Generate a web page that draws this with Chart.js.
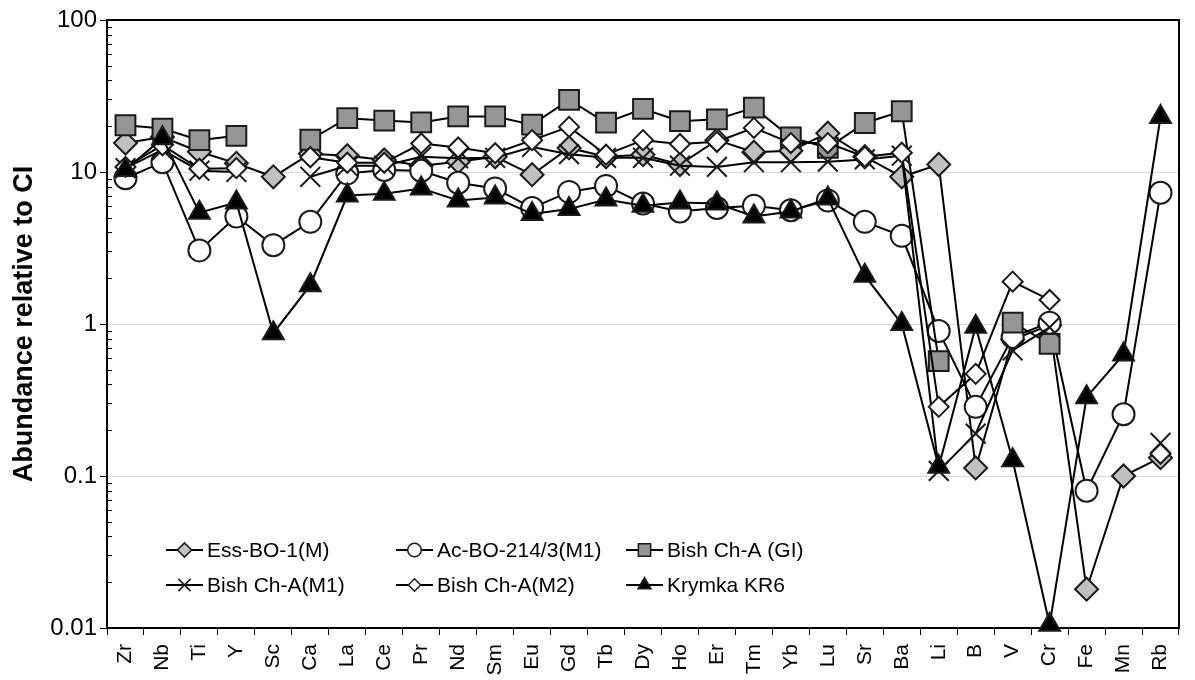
<!DOCTYPE html>
<html>
<head>
<meta charset="utf-8">
<script src="https://cdn.jsdelivr.net/npm/chart.js@4.4.1/dist/chart.umd.min.js"></script>
<style>
  html, body { margin: 0; padding: 0; background: #fff; }
  #wrap { width: 1195px; height: 680px; position: relative; }
</style>
</head>
<body>
<div id="wrap"><canvas id="chart1"></canvas></div>
<script>
// element order along the x axis
const elements = ['Zr','Nb','Ti','Y','Sc','Ca','La','Ce','Pr','Nd','Sm','Eu','Gd','Tb','Dy','Ho','Er','Tm','Yb','Lu','Sr','Ba','Li','B','V','Cr','Fe','Mn','Rb'];

// abundances relative to CI (null = not measured)
const essBO1 = [15.5,17,13.6,11.4,9.3,13.2,12.8,12,11,11.7,12.6,9.6,14.4,12.6,13,11.2,16.2,13.5,13.8,18,12.6,9.3,11.2,0.113,0.79,0.98,0.018,0.1,0.132];
const acBO214 = [9.1,11.6,3.05,5.1,3.3,4.7,9.8,10.3,10.2,8.5,7.8,5.8,7.4,8.1,6.2,5.5,5.8,6.0,5.6,6.5,4.7,3.8,0.9,0.285,0.82,1.02,0.08,0.255,7.3];
const bishGl = [20.3,19.3,16.2,17.3,null,16.3,22.6,21.8,21.2,23.2,23.2,20.5,29.8,21.1,26,21.6,22.2,26.5,16.9,14.4,21,25.1,0.57,null,1.02,0.74,null,null,null];
const bishM1 = [10.6,14,10.2,10,null,9.3,11,11,12.6,12.3,12.4,14.6,13.1,12.4,12.4,11,10.8,11.6,11.6,11.7,12.1,12.8,0.108,0.19,0.67,0.95,null,null,0.165];
const bishM2 = [10.8,15,10.5,10.6,null,12.5,11.5,11.5,15.4,14.5,13.3,16.2,19.8,13,16.2,15.3,15.8,19.5,15.5,15.5,12.6,13.4,0.285,0.47,1.9,1.44,null,null,0.14];
const krymka = [10.3,16.7,5.4,6.3,0.87,1.8,7.0,7.2,7.8,6.5,6.8,5.3,5.7,6.6,6.0,6.3,6.2,5.1,5.5,6.7,2.08,1.0,0.115,0.96,0.127,0.0105,0.33,0.63,23];

const seriesNames = ['Ess-BO-1(M)', 'Ac-BO-214/3(M1)', 'Bish Ch-A (GI)', 'Bish Ch-A(M1)', 'Bish Ch-A(M2)', 'Krymka KR6'];
const yTicks = [0.01, 0.1, 1, 10, 100];

const FONT = '"Liberation Sans", Arial, sans-serif';

function series(label, data, style, radius, fill, order) {
  return {
    label: label,
    data: data,
    borderColor: '#000',
    borderWidth: 2,
    pointStyle: style,
    pointRadius: radius,
    pointHoverRadius: radius,
    pointBackgroundColor: fill,
    pointBorderColor: '#1a1a1a',
    pointBorderWidth: 2,
    spanGaps: false,
    tension: 0,
    fill: false,
    clip: false,
    order: order
  };
}

const frame = {
  id: 'frame',
  beforeDatasetsDraw(chart) {
    const ctx = chart.ctx, a = chart.chartArea, y = chart.scales.y;
    ctx.save();
    // minor log ticks inside the axis
    ctx.strokeStyle = '#000';
    ctx.lineWidth = 1;
    for (let d = 0.01; d < 100; d *= 10) {
      for (let k = 2; k <= 9; k++) {
        const py = Math.round(y.getPixelForValue(k * d)) + 0.5;
        ctx.beginPath();
        ctx.moveTo(a.left, py);
        ctx.lineTo(a.left + 5, py);
        ctx.stroke();
      }
    }
    ctx.lineWidth = 2;
    ctx.strokeRect(a.left, a.top, a.right - a.left, a.bottom - a.top);
    ctx.restore();
  }
};

const legendBox = {
  id: 'legendBox',
  afterDraw(chart, args, opts) {
    const ctx = chart.ctx;
    ctx.save();
    chart.data.datasets.forEach((ds, i) => {
      const x = opts.cols[i % 3], y = opts.rows[Math.floor(i / 3)];
      ctx.strokeStyle = '#000';
      ctx.lineWidth = 2;
      ctx.beginPath();
      ctx.moveTo(x, y);
      ctx.lineTo(x + 37, y);
      ctx.stroke();
      ctx.fillStyle = ds.pointBackgroundColor;
      ctx.strokeStyle = ds.pointBorderColor;
      ctx.lineWidth = 1.5;
      Chart.helpers.drawPoint(ctx, {pointStyle: ds.pointStyle, radius: ds.pointRadius * 0.62, borderWidth: 1.5, rotation: 0}, x + 18.5, y);
      ctx.fillStyle = '#000';
      ctx.font = '21px ' + FONT;
      ctx.textBaseline = 'middle';
      ctx.textAlign = 'left';
      ctx.fillText(ds.label, x + 41, y + 1);
    });
    ctx.restore();
  }
};

new Chart(document.getElementById('chart1'), {
  type: 'line',
  data: {
    labels: elements,
    datasets: [
      series(seriesNames[0], essBO1, 'rectRot', 11.5, '#c0c0c0', 5),
      series(seriesNames[1], acBO214, 'circle', 11, '#ffffff', 4),
      series(seriesNames[2], bishGl, 'rect', 14, '#969696', 3),
      series(seriesNames[3], bishM1, 'crossRot', 14, '#000000', 2),
      series(seriesNames[4], bishM2, 'rectRot', 10, '#ffffff', 1),
      series(seriesNames[5], krymka, 'triangle', 12, '#000000', 0)
    ]
  },
  options: {
    responsive: true,
    maintainAspectRatio: false,
    animation: false,
    devicePixelRatio: 1,
    layout: { padding: { top: 20, right: 1, left: 0, bottom: 0 } },
    plugins: {
      legend: { display: false },
      tooltip: { enabled: false },
      legendBox: { cols: [166, 396, 626], rows: [550, 585] }
    },
    scales: {
      x: {
        type: 'category',
        offset: true,
        afterFit: (s) => { s.height = 52; },
        grid: { offset: true, drawOnChartArea: false, tickLength: 7, tickColor: '#000' },
        border: { color: '#000', width: 2 },
        ticks: { autoSkip: false, maxRotation: 90, minRotation: 90, padding: 9, color: '#000', font: { family: FONT, size: 21 } }
      },
      y: {
        type: 'logarithmic',
        min: 0.01,
        max: 100,
        afterFit: (s) => { s.width = 107; },
        afterBuildTicks: (s) => { s.ticks = yTicks.map(v => ({ value: v })); },
        title: { display: true, text: 'Abundance relative to CI', color: '#000', font: { family: FONT, size: 27, weight: 'bold' }, padding: { top: 8, bottom: 0 } },
        grid: { color: '#d9d9d9', tickLength: 7, tickColor: '#000' },
        border: { color: '#000', width: 2 },
        ticks: { padding: 3, color: '#000', font: { family: FONT, size: 24 }, callback: (v) => String(v) }
      }
    }
  },
  plugins: [frame, legendBox]
});
</script>
</body>
</html>
